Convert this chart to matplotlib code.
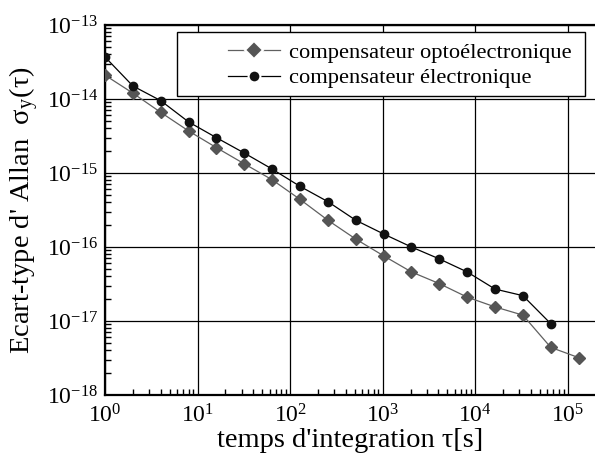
import numpy as np
import matplotlib
matplotlib.use("Agg")
import matplotlib.pyplot as plt
from matplotlib.ticker import FixedLocator, NullFormatter, FuncFormatter
from matplotlib.patches import Rectangle

plt.rcParams['font.family'] = ['Liberation Serif', 'DejaVu Serif']
plt.rcParams['mathtext.fontset'] = 'stix'

tau_opto = [1, 2, 4, 8, 16, 32, 64, 128, 256, 512, 1024, 2048, 4096, 8192,
            16384, 32768, 65536, 131072]
sigma_opto = [2.1e-14, 1.2e-14, 6.6e-15, 3.7e-15, 2.2e-15, 1.33e-15, 8.1e-16,
              4.4e-16, 2.3e-16, 1.28e-16, 7.6e-17, 4.6e-17, 3.2e-17, 2.1e-17,
              1.55e-17, 1.2e-17, 4.4e-18, 3.2e-18]
tau_elec = [1, 2, 4, 8, 16, 32, 64, 128, 256, 512, 1024, 2048, 4096, 8192,
            16384, 32768, 65536]
sigma_elec = [3.7e-14, 1.5e-14, 9.5e-15, 4.9e-15, 3.0e-15, 1.86e-15, 1.13e-15,
              6.6e-16, 4.1e-16, 2.3e-16, 1.5e-16, 1.0e-16, 6.9e-17, 4.6e-17,
              2.7e-17, 2.2e-17, 9.2e-18]
x_decades = [0, 1, 2, 3, 4, 5]
y_decades = [-18, -17, -16, -15, -14, -13]
label_opto = "compensateur optoélectronique"
label_elec = "compensateur électronique"

W, H = 595, 455
fig = plt.figure(figsize=(W/100, H/100), dpi=100)
ax = fig.add_axes([105/W, 1-395/H, 1-105/W, (395-25)/H])
ax.set_xscale('log')
ax.set_yscale('log')
ax.set_xlim(1, 1.97e5)
ax.set_ylim(1e-18, 1e-13)

ax.plot(tau_opto, sigma_opto, '-', color='#606060', lw=0.9, marker='D',
        ms=6.5, mfc='#555555', mec='#555555', label=label_opto, zorder=3)
ax.plot(tau_elec, sigma_elec, '-', color='black', lw=0.9, marker='o',
        ms=6.0, mfc='#111111', mec='#111111', label=label_elec, zorder=4)

ax.grid(True, which='major', color='black', lw=0.9)
ax.xaxis.set_major_locator(FixedLocator([10.0**e for e in x_decades]))
ax.yaxis.set_major_locator(FixedLocator([10.0**e for e in y_decades]))
ax.xaxis.set_minor_locator(FixedLocator([m * 10.0**e for e in x_decades for m in range(2, 10)
                                         if m * 10.0**e < 1.97e5]))
ax.yaxis.set_minor_locator(FixedLocator([m * 10.0**e for e in y_decades[:-1] for m in range(2, 10)]))
ax.xaxis.set_minor_formatter(NullFormatter())
ax.yaxis.set_minor_formatter(NullFormatter())

def fmt(v, pos):
    e = int(round(np.log10(v)))
    return r"$\mathregular{10^{%d}}$" % e
ax.xaxis.set_major_formatter(FuncFormatter(fmt))
ax.yaxis.set_major_formatter(FuncFormatter(fmt))

ax.tick_params(which='both', direction='in', top=False, right=False)
ax.tick_params(which='major', length=0, labelsize=17, pad=7)
ax.tick_params(axis='y', which='major', pad=5)
ax.tick_params(which='minor', length=4, width=1)
for s in ['left', 'bottom', 'top']:
    ax.spines[s].set_linewidth(1.6)
ax.spines['right'].set_visible(False)

ax.set_xlabel("temps d'integration τ[s]", fontsize=20.5, labelpad=0)
ax.set_ylabel("Ecart-type d' Allan  σ$_\\mathregular{y}$(τ)", fontsize=20.5, labelpad=4)

# legend frame drawn manually to match reference extent
ax.add_patch(Rectangle((177/W, 1-96/H), (585-177)/W, (96-32)/H,
                       transform=fig.transFigure, facecolor='white',
                       edgecolor='black', lw=1.0, zorder=5, clip_on=False))
leg = ax.legend(loc='upper left', bbox_to_anchor=(228/W, 1-42/H),
                bbox_transform=fig.transFigure, fontsize=16.2,
                frameon=False, handlelength=2.3, handletextpad=0.42,
                borderpad=0.0, labelspacing=0.22, borderaxespad=0)
leg.set_zorder(6)
for h in leg.legend_handles:
    h.set_markeredgecolor('white')
    h.set_markeredgewidth(1.5)
    h.set_markersize(h.get_markersize() + 2.5)

fig.savefig("out.png", dpi=100)
